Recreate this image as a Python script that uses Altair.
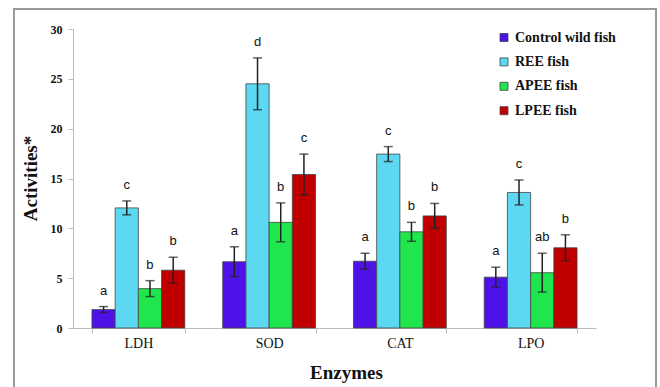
import altair as alt
import pandas as pd

enzymes = ["LDH", "SOD", "CAT", "LPO"]
groups = ["Control wild fish", "REE fish", "APEE fish", "LPEE fish"]
colors = ["#4E12E8", "#5CD8F2", "#1FE64C", "#C00000"]

control_mean = [1.85, 6.65, 6.7, 5.1]
ree_mean = [12.05, 24.5, 17.45, 13.6]
apee_mean = [3.95, 10.6, 9.65, 5.55]
lpee_mean = [5.8, 15.4, 11.25, 8.05]

control_err = [0.3, 1.5, 0.8, 1.0]
ree_err = [0.7, 2.6, 0.75, 1.25]
apee_err = [0.8, 1.95, 0.95, 1.95]
lpee_err = [1.3, 2.05, 1.25, 1.3]

control_letter = ["a", "a", "a", "a"]
ree_letter = ["c", "d", "c", "c"]
apee_letter = ["b", "b", "b", "ab"]
lpee_letter = ["b", "c", "b", "b"]

means = [control_mean, ree_mean, apee_mean, lpee_mean]
errs = [control_err, ree_err, apee_err, lpee_err]
letters = [control_letter, ree_letter, apee_letter, lpee_letter]

rows = []
for gi, g in enumerate(groups):
    for ei, e in enumerate(enzymes):
        m = means[gi][ei]
        s = errs[gi][ei]
        rows.append({"Enzyme": e, "Group": g, "mean": m,
                     "lo": m - s, "hi": m + s, "letter": letters[gi][ei]})
df = pd.DataFrame(rows)

serif = "Liberation Serif"

x = alt.X("Enzyme:N", sort=enzymes,
          scale=alt.Scale(paddingInner=0.29, paddingOuter=0.145),
          axis=alt.Axis(title="Enzymes", labelAngle=0, tickBand="extent",
                        domainColor="#BBBBBB", tickColor="#BBBBBB", tickSize=5,
                        labelFont=serif, labelFontSize=14, labelColor="#111111",
                        labelPadding=3,
                        titleFont=serif, titleFontSize=19, titleFontWeight="bold",
                        titleColor="#111111", titleX=273, titleY=50,
                        titleBaseline="alphabetic"))
xo = alt.XOffset("Group:N", sort=groups)

base = alt.Chart(df)

bars = base.mark_bar(stroke="#444444", strokeWidth=0.8).encode(
    x=x, xOffset=xo,
    y=alt.Y("mean:Q", scale=alt.Scale(domain=[0, 30], nice=False),
            axis=alt.Axis(title="Activities*", values=[0, 5, 10, 15, 20, 25, 30],
                          grid=False, domainColor="#BBBBBB", tickColor="#BBBBBB",
                          tickSize=5, labelFont=serif, labelFontSize=12,
                          labelFontWeight="bold", labelColor="#111111",
                          labelPadding=6,
                          titleFont=serif, titleFontSize=19, titleFontWeight="bold",
                          titleColor="#111111", titleX=-37, titleY=149,
                          titleBaseline="alphabetic", titleAngle=-90)),
    color=alt.Color("Group:N", sort=groups,
                    scale=alt.Scale(domain=groups, range=colors),
                    legend=alt.Legend(title=None, orient="none", legendX=424,
                                      legendY=1.5, symbolType="square",
                                      symbolSize=64, symbolStrokeColor="#444444",
                                      symbolStrokeWidth=0.8,
                                      labelFont=serif, labelFontSize=14,
                                      labelFontWeight="bold", labelColor="#111111",
                                      rowPadding=10.4, labelOffset=4, padding=0)),
)

rules = base.mark_rule(color="#222222", strokeWidth=1.5).encode(
    x=x, xOffset=xo, y="lo:Q", y2="hi:Q")

caps_hi = base.mark_tick(color="#222222", thickness=1.5, size=9).encode(
    x=x, xOffset=xo, y="hi:Q")
caps_lo = base.mark_tick(color="#222222", thickness=1.5, size=9).encode(
    x=x, xOffset=xo, y="lo:Q")

labels = base.mark_text(font="Liberation Sans", fontSize=13, color="#111111",
                        baseline="alphabetic", dy=-12).encode(
    x=x, xOffset=xo, y="hi:Q", text="letter:N")

frame = alt.Chart(pd.DataFrame({"a": [0]})).mark_rect(
    fill=None, stroke="#9A9A9A", strokeWidth=2).encode(
    x=alt.value(-59), x2=alt.value(583), y=alt.value(-20), y2=alt.value(370))

chart = alt.layer(frame, bars, rules, caps_hi, caps_lo, labels).properties(
    width=523, height=299,
    autosize=alt.AutoSizeParams(type="none"),
    padding={"left": 73, "top": 29, "right": 64, "bottom": 59},
    background="white",
).configure_view(stroke=None)

chart.save("out.html", embed_options={"renderer": "svg", "actions": False})
